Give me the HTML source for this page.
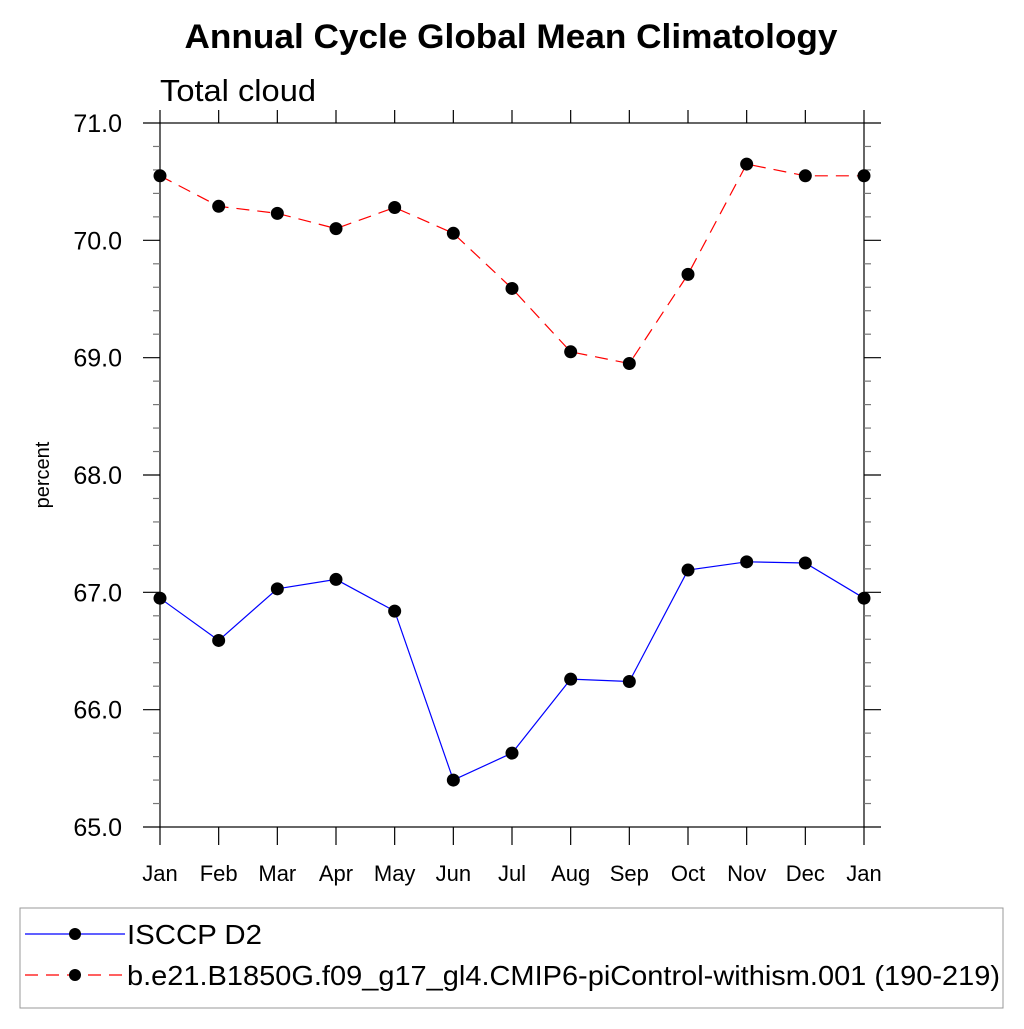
<!DOCTYPE html>
<html><head><meta charset="utf-8"><style>
body{margin:0;background:#fff;}
svg text{font-family:"Liberation Sans",sans-serif;}
</style></head><body>
<svg width="1024" height="1024" xmlns="http://www.w3.org/2000/svg" id="chart">
<text x="511" y="48" text-anchor="middle" font-size="34" font-weight="bold" textLength="653" lengthAdjust="spacingAndGlyphs">Annual Cycle Global Mean Climatology</text>
<text x="160" y="101" font-size="31" textLength="156" lengthAdjust="spacingAndGlyphs">Total cloud</text>
<text transform="translate(49,475) rotate(-90)" text-anchor="middle" font-size="20">percent</text>
<g id="axes"></g>
<g id="series"></g>
<rect x="20" y="908" width="983" height="100" fill="none" stroke="#999" stroke-width="1"/>
<g>
<line x1="25" y1="934" x2="125" y2="934" stroke="#00f" stroke-width="1.2"/>
<circle cx="75" cy="934" r="6" fill="#000"/>
<text x="127" y="944" font-size="28" textLength="135" lengthAdjust="spacingAndGlyphs">ISCCP D2</text>
</g>
<g>
<line x1="25" y1="975" x2="125" y2="975" stroke="#f00" stroke-width="1.2" stroke-dasharray="13,8"/>
<circle cx="75" cy="975" r="6" fill="#000"/>
<text x="127" y="985" font-size="28" textLength="873" lengthAdjust="spacingAndGlyphs">b.e21.B1850G.f09_g17_gl4.CMIP6-piControl-withism.001 (190-219)</text>
</g>
</svg>
<script>
const months = ["Jan","Feb","Mar","Apr","May","Jun","Jul","Aug","Sep","Oct","Nov","Dec","Jan"];
const isccpValues = [66.95,66.59,67.03,67.11,66.84,65.40,65.63,66.26,66.24,67.19,67.26,67.25,66.95];
const modelValues = [70.55,70.29,70.23,70.10,70.28,70.06,69.59,69.05,68.95,69.71,70.65,70.55,70.55];
const yTicks = [65.0,66.0,67.0,68.0,69.0,70.0,71.0];
const yMin = 65, yMax = 71;
const L=160,R=864,T=123,B=827;
const NS="http://www.w3.org/2000/svg";
const xs = i => L + i*(R-L)/(months.length-1);
const ys = v => B - (v-yMin)/(yMax-yMin)*(B-T);
function mk(tag, attrs, parent){const e=document.createElementNS(NS,tag);for(const k in attrs)e.setAttribute(k,attrs[k]);parent.appendChild(e);return e;}
const ax=document.getElementById('axes');
const frame=mk('rect',{x:L,y:T,width:R-L,height:B-T,fill:'none',stroke:'#000','stroke-width':1.2},ax);


for(let v=yMin; v<=yMax+1e-6; v+=0.2){
  const major=Math.abs(v-Math.round(v))<1e-6;
  const len=major?17:7;
  mk('line',{x1:L-len,y1:ys(v),x2:L,y2:ys(v),stroke:major?'#000':'#777','stroke-width':1.2},ax);
  mk('line',{x1:R,y1:ys(v),x2:R+len,y2:ys(v),stroke:major?'#000':'#777','stroke-width':1.2},ax);
}
yTicks.forEach(v=>{
  const t=mk('text',{x:122,y:ys(v)+9,'text-anchor':'end','font-size':25},ax);
  t.textContent=v.toFixed(1);
  
  
});
months.forEach((m,i)=>{
  mk('line',{x1:xs(i),y1:B,x2:xs(i),y2:B+18,stroke:'#000','stroke-width':1.2},ax);
  mk('line',{x1:xs(i),y1:T-13,x2:xs(i),y2:T,stroke:'#000','stroke-width':1.2},ax);
  const t=mk('text',{x:xs(i),y:881,'text-anchor':'middle','font-size':22},ax);
  t.textContent=m;
  
  
});
const sg=document.getElementById('series');
function drawSeries(vals,color,dash,name){
  const pts=vals.map((v,i)=>xs(i)+','+ys(v)).join(' ');
  const pl=mk('polyline',{points:pts,fill:'none',stroke:color,'stroke-width':1.2,'stroke-dasharray':dash},sg);
  
  
  vals.forEach((v,i)=>{
    const c=mk('circle',{cx:xs(i),cy:ys(v),r:6.5,fill:'#000'},sg);
    
    
  });
}
drawSeries(isccpValues,'#00f','none','isccp');
drawSeries(modelValues,'#f00','13,8','model');
</script>
</body></html>
